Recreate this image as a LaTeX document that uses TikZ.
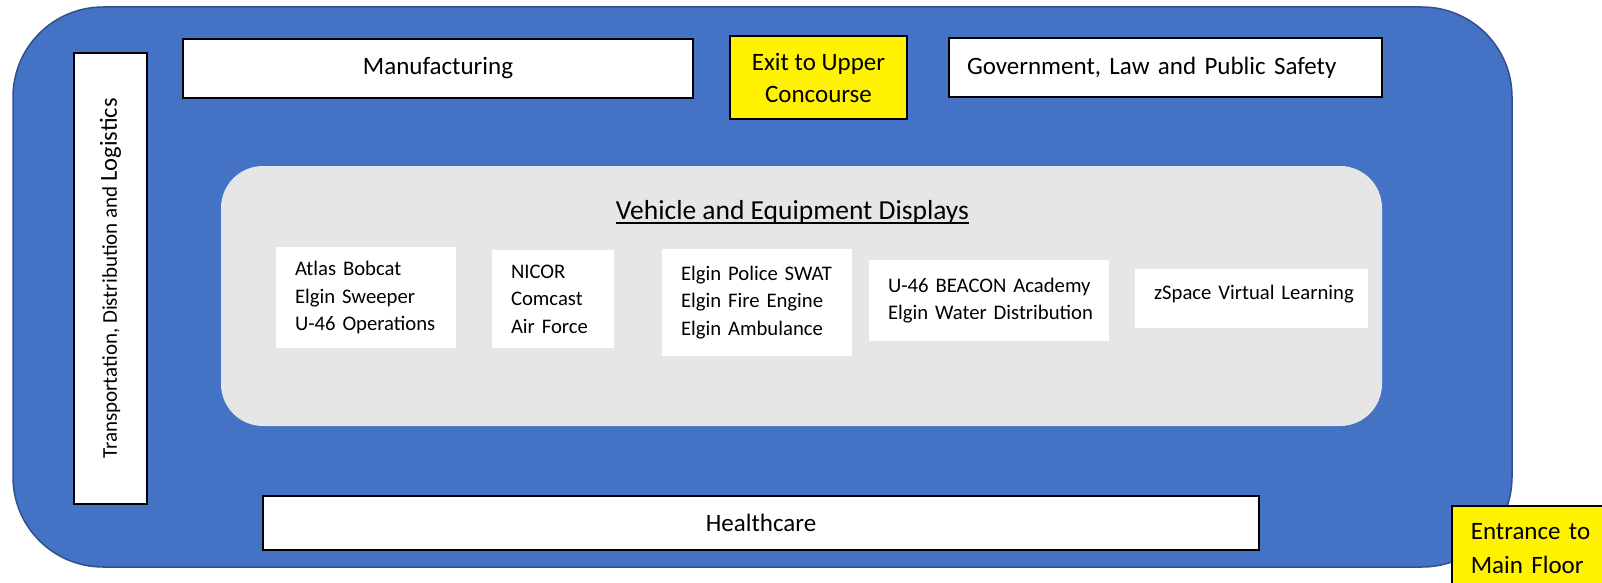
\documentclass[tikz,border=0pt]{standalone}
\usepackage{fontspec}
\setmainfont{Carlito}
\definecolor{bluefill}{HTML}{4472C4}
\definecolor{blueline}{HTML}{2F528F}
\definecolor{grayfill}{HTML}{E6E6E6}
\begin{document}
\begin{tikzpicture}[x=1pt,y=-1pt,
  catbox/.style={draw=black, line width=1.6pt, fill=white, inner sep=0pt,
    font=\fontsize{25}{30}\selectfont},
  yellowbox/.style={catbox, fill=yellow},
  exhibit/.style={fill=white, inner xsep=19pt, inner ysep=0pt, align=left,
    font=\fontsize{20.7}{27.5}\selectfont}]
\useasboundingbox (0,0) rectangle (1602,583);
% outer hall
\draw[fill=bluefill, draw=blueline, line width=1.5pt, rounded corners=90pt]
  (13,7) rectangle (1512,567);
% central display area
\fill[grayfill, rounded corners=42pt] (221,166) rectangle (1382,426);

\node[catbox, minimum width=510pt, minimum height=59pt] (manuf) at (438,68.5) {Manufacturing};
\node[yellowbox, minimum width=177pt, minimum height=83pt, align=center,
  font=\fontsize{25}{32}\selectfont] (exit) at (818.5,77.5) {Exit to Upper\\Concourse};
\node[catbox, minimum height=59pt, inner xsep=18pt, text width=397pt, align=left]
  (gov) at (1165.5,67.5) {\mbox{Government, Law and Public Safety}};
\node[catbox, minimum width=451pt, minimum height=73pt, rotate=90,
  font=\fontsize{21}{25}\selectfont] (trans) at (110.5,278.5)
  {Transportation, Distribution and {\fontsize{24.5}{28}\selectfont Logistics}};
\node[catbox, minimum width=996pt, minimum height=54pt] (health) at (761,523) {Healthcare};
\node[yellowbox, anchor=north west, inner xsep=19pt, inner ysep=18pt, text width=160pt,
  align=left, font=\fontsize{25}{33.5}\selectfont] (entr) at (1451,505) {Entrance to\\Main Floor};

\node[inner sep=0pt, anchor=base, font=\fontsize{27.5}{32}\selectfont] (title) at (792.5,219.5)
  {Vehicle and Equipment Displays};
\draw[line width=1.3pt] ([yshift=-3.5pt]title.base west) -- ([yshift=-3.5pt]title.base east);

\node[exhibit, text width=142pt, minimum height=101pt] (b1) at (366,297.5)
  {\mbox{Atlas Bobcat}\\\mbox{Elgin Sweeper}\\\mbox{U-46 Operations}};
\node[exhibit, text width=84pt, minimum height=98pt] (b2) at (553,299)
  {NICOR\\Comcast\\\mbox{Air Force}};
\node[exhibit, text width=152pt, minimum height=107pt] (b3) at (757,302.5)
  {\mbox{Elgin Police SWAT}\\\mbox{Elgin Fire Engine}\\\mbox{Elgin Ambulance}};
\node[exhibit, text width=202pt, minimum height=81pt] (b4) at (989,300.5)
  {\mbox{U-46 BEACON Academy}\\\mbox{Elgin Water Distribution}};
\node[exhibit, text width=195pt, minimum height=59pt, text depth=13pt] (b5) at (1251.5,298.5)
  {\mbox{zSpace Virtual Learning}};
\end{tikzpicture}
\end{document}
